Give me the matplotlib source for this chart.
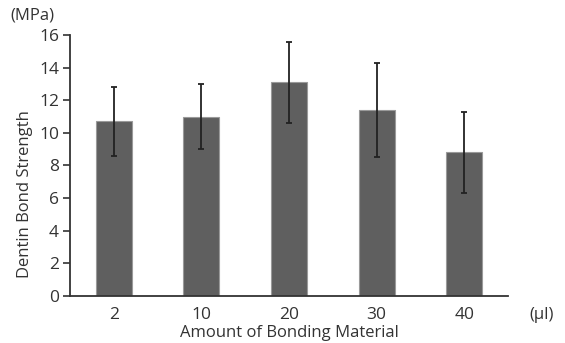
import numpy as np
import matplotlib.pyplot as plt

# Data
amounts = ["2", "10", "20", "30", "40"]
strength = [10.7, 11.0, 13.1, 11.4, 8.8]
sd = [2.1, 2.0, 2.5, 2.9, 2.5]

plt.rcParams['font.family'] = ['Open Sans', 'DejaVu Sans']

fig = plt.figure(figsize=(5.65, 3.43), dpi=100)
ax = fig.add_axes([0.124, 0.137, 0.775, 0.761])

x = np.arange(len(amounts))
ax.bar(x, strength, width=0.41, color="#5f5f5f", edgecolor="#9a9a9a", linewidth=0.8,
       yerr=sd, error_kw=dict(ecolor="#222222", elinewidth=1.3, capsize=2, capthick=1.3))

ax.set_xlim(-0.5, len(amounts) - 0.5)
ax.set_ylim(0, 16)
ax.set_yticks(range(0, 17, 2))
ax.set_xticks(x)
ax.set_xticklabels(amounts)

txt = "#333333"
ax.tick_params(axis="y", direction="out", length=5, width=1.2, color="#333333",
               labelsize=12.5, labelcolor=txt, pad=3)
ax.tick_params(axis="x", length=0, labelsize=12.5, labelcolor=txt, pad=8)

for s in ["top", "right"]:
    ax.spines[s].set_visible(False)
ax.spines["left"].set_color("#333333")
ax.spines["bottom"].set_color("#333333")
ax.spines["left"].set_linewidth(1.3)
ax.spines["bottom"].set_linewidth(1.3)

ax.set_ylabel("Dentin Bond Strength", fontsize=12, color=txt)
ax.yaxis.set_label_coords(-0.085, 0.39)
ax.set_xlabel("Amount of Bonding Material", fontsize=12, color=txt, labelpad=1)

fig.text(0.018, 0.955, "(MPa)", fontsize=12, color=txt, ha="left", va="center")
fig.text(0.937, 0.082, "(\u00b5l)", fontsize=12, color=txt, ha="left", va="center")

fig.savefig("out.png", dpi=100)
